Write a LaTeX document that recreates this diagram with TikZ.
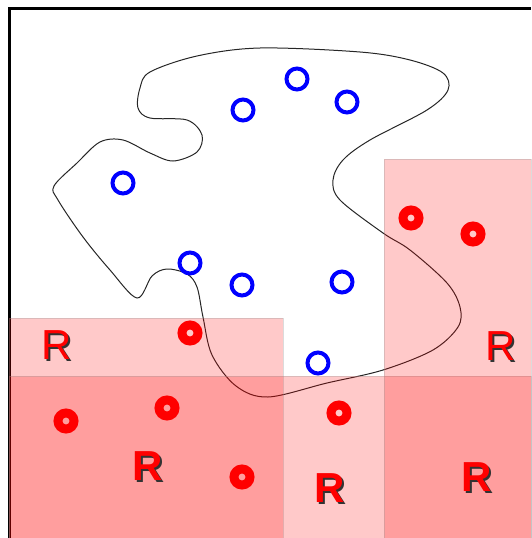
\documentclass[tikz,border=0pt]{standalone}
\usepackage{fontspec}
\setmainfont{Liberation Sans}

\begin{document}
\begin{tikzpicture}[
  x=1pt, y=-1pt,
  frame/.style={line width=3pt, black},
  blob/.style={line width=1pt, black!85},
  region/.style={fill=red, fill opacity=0.21, draw=black!40,
    draw opacity=0.35, line width=0.8pt},
  bluept/.style={circle, draw=blue, line width=4pt,
    minimum size=21pt, inner sep=0pt},
  redpt/.style={circle, draw=red, line width=9pt,
    minimum size=16pt, inner sep=0pt},
  rtxt/.style={text=red, inner sep=0pt,
    font=\fontsize{42}{42}\selectfont}]
\useasboundingbox (0,0) rectangle (531,538);

% frame
\draw[frame] (9,538) -- (9,8) -- (531,8);

% the blob
\draw[blob] plot[smooth cycle, tension=0.55] coordinates {
  (260,48) (360,52) (410,60) (443,73) (448,90) (427,110) (370,140)
  (343,160) (333,180) (340,200) (383,233) (410,250) (447,283)
  (460,307) (458,327) (433,350) (383,370) (327,383) (268,397)
  (236,386) (212,355) (203,317) (197,287) (187,274) (167,269)
  (152,276) (137,298) (110,270) (83,237) (58,200) (54,186)
  (77,163) (100,142) (123,140) (150,153) (173,161) (197,152)
  (202,135) (187,120) (150,118) (138,108) (140,88) (150,72) (197,56)};

% blue points
\foreach \x/\y/\n in {297/79/b1, 243/110/b2, 347/102/b3, 123/183/b4,
    190/263/b5, 242/285/b6, 342/282/b7, 318/363/b8}
  \node[bluept] (\n) at (\x,\y) {};

% regions
\draw[region] (9,318) rectangle (283,538);
\draw[region] (9,376) rectangle (531,538);
\draw[region] (384,159) rectangle (531,538);

% red points
\foreach \x/\y/\n in {190/333/p1, 66/421/p2, 167/408/p3, 242/477/p4,
    339/413/p5, 411/218/p6, 473/234/p7}
  \node[redpt] (\n) at (\x,\y) {};

% labels, with a shadow behind each R
\foreach \x/\y/\n/\w in {57/346/ra/\mdseries, 501/347/rb/\mdseries,
    148/467/rc/\bfseries, 330/489/rd/\bfseries, 477/478/re/\bfseries}
  \node[rtxt] (\n) at (\x,\y)
    {\w\makebox[0pt][l]{\hspace{2pt}\raisebox{-2pt}{\color{black!80}R}}R};
\end{tikzpicture}
\end{document}
